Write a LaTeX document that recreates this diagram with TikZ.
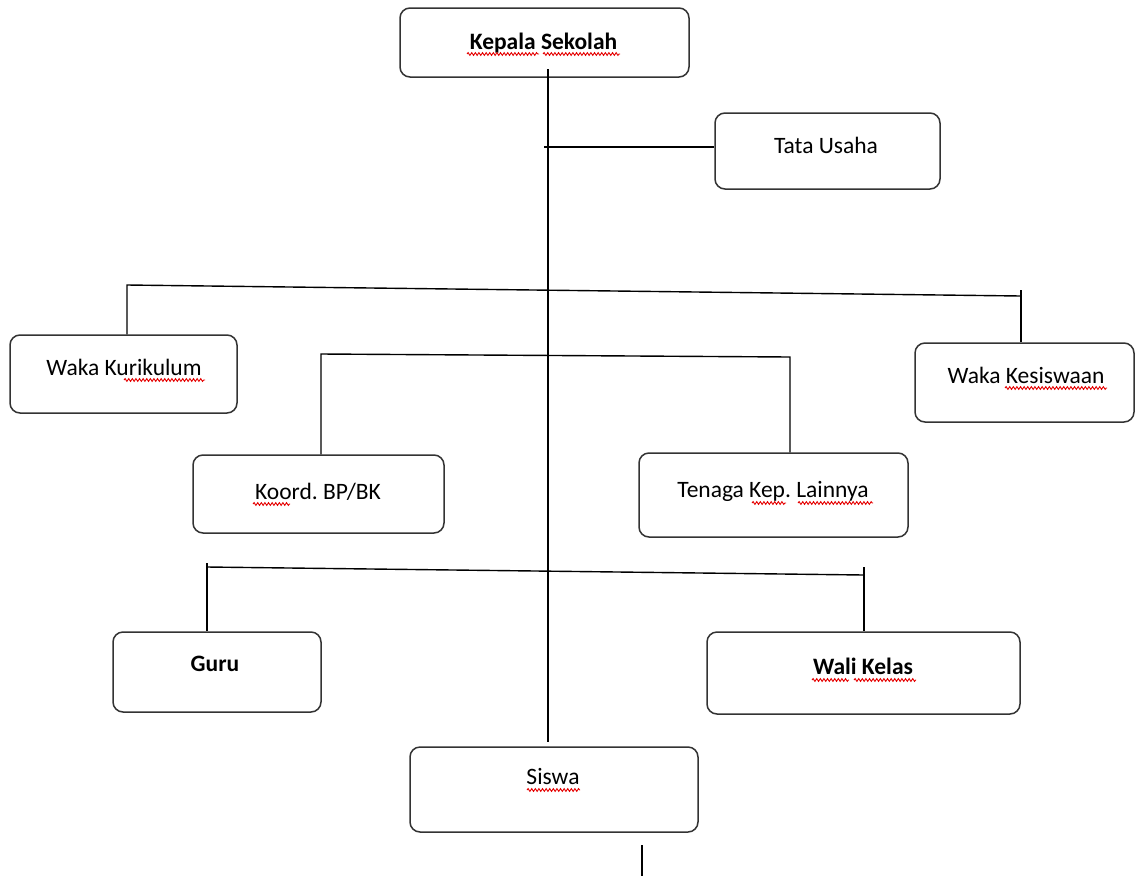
\documentclass[tikz,border=0pt]{standalone}
\usepackage{fontspec}
\setmainfont{Carlito}
\usetikzlibrary{decorations.pathmorphing}
\frenchspacing
\begin{document}
\begin{tikzpicture}[x=1pt,y=-1pt,
  box/.style={draw=black!80,line width=1.5pt,rounded corners=10pt,inner sep=0pt},
  lbl/.style={anchor=base,inner sep=0pt,font=\fontsize{23.5}{27}\selectfont},
  conn/.style={draw=black,line width=1.4pt},
  squiggle/.style={draw=red!90!black,line width=0.9pt,decorate,decoration={snake,amplitude=1.4pt,segment length=3.6pt}}]
\useasboundingbox (0,0) rectangle (1135,876);
% boxes
\node[box,minimum width=289pt,minimum height=69pt] (ks) at (544.5,42.5) {};
\node[box,minimum width=225pt,minimum height=76pt] (tu) at (827.5,151) {};
\node[box,minimum width=227pt,minimum height=78pt] (wkur) at (123.5,374) {};
\node[box,minimum width=219pt,minimum height=79pt] (wkes) at (1024.5,382.5) {};
\node[box,minimum width=251pt,minimum height=78pt] (kbp) at (318.5,494) {};
\node[box,minimum width=269pt,minimum height=84pt] (tkl) at (773.5,495) {};
\node[box,minimum width=208pt,minimum height=80pt] (guru) at (217,672) {};
\node[box,minimum width=313pt,minimum height=82pt] (wali) at (863.5,673) {};
\node[box,minimum width=288pt,minimum height=85pt] (siswa) at (554,789.5) {};
% labels
\node[lbl] (ks-t) at (543.5,49) {\textbf{Kepala Sekolah}};
\node[lbl] (tu-t) at (826,153) {Tata Usaha};
\node[lbl] (wkur-t) at (124,375) {Waka Kurikulum};
\node[lbl] (wkes-t) at (1026,383) {Waka Kesiswaan};
\node[lbl] (kbp-t) at (318,499) {Koord. BP/BK};
\node[lbl] (tkl-t) at (773,497) {Tenaga Kep. Lainnya};
\node[lbl] (guru-t) at (215,671) {\textbf{Guru}};
\node[lbl] (wali-t) at (863,674) {\textbf{Wali Kelas}};
\node[lbl] (siswa-t) at (553,784) {Siswa};
% spell-check underlines
\draw[squiggle] (467,54) -- (539,54);
\draw[squiggle] (543,54) -- (620,54);
\draw[squiggle] (124,380) -- (205,380);
\draw[squiggle] (1005,388) -- (1107,388);
\draw[squiggle] (253,504) -- (290,504);
\draw[squiggle] (752,503) -- (786,503);
\draw[squiggle] (798,503) -- (873,503);
\draw[squiggle] (812,680) -- (849,680);
\draw[squiggle] (854,680) -- (916,680);
\draw[squiggle] (527,790) -- (580,790);
% connectors
\coordinate (trunkTop) at (548,69);
\coordinate (trunkBot) at (548,742);
\draw[conn] (trunkTop) -- (trunkBot);
\coordinate (tuL) at (544,147);
\draw[conn] (tuL) -- (tuL -| tu.west);
% top bar
\coordinate (b1L) at (127,285);
\coordinate (b1R) at (1021,296);
\coordinate (b1Rt) at (1021,290);
\draw[conn] (wkur.north -| b1L) -- (b1L) -- (b1R);
\draw[conn] (b1Rt) -- (wkes.north -| b1Rt);
% second bar
\coordinate (b2L) at (321,354);
\coordinate (b2R) at (790,357);
\draw[conn] (kbp.north -| b2L) -- (b2L) -- (b2R) -- (tkl.north -| b2R);
% third bar
\coordinate (b3L) at (207,567);
\coordinate (b3Lt) at (207,563);
\coordinate (b3R) at (864,575);
\coordinate (b3Rt) at (864,567);
\draw[conn] (b3L) -- (b3R);
\draw[conn] (b3Lt) -- (guru.north -| b3Lt);
\draw[conn] (b3Rt) -- (wali.north -| b3Rt);
% bottom stub
\coordinate (stubTop) at (642,845);
\coordinate (stubBot) at (642,876);
\draw[conn] (stubTop) -- (stubBot);
\end{tikzpicture}
\end{document}
